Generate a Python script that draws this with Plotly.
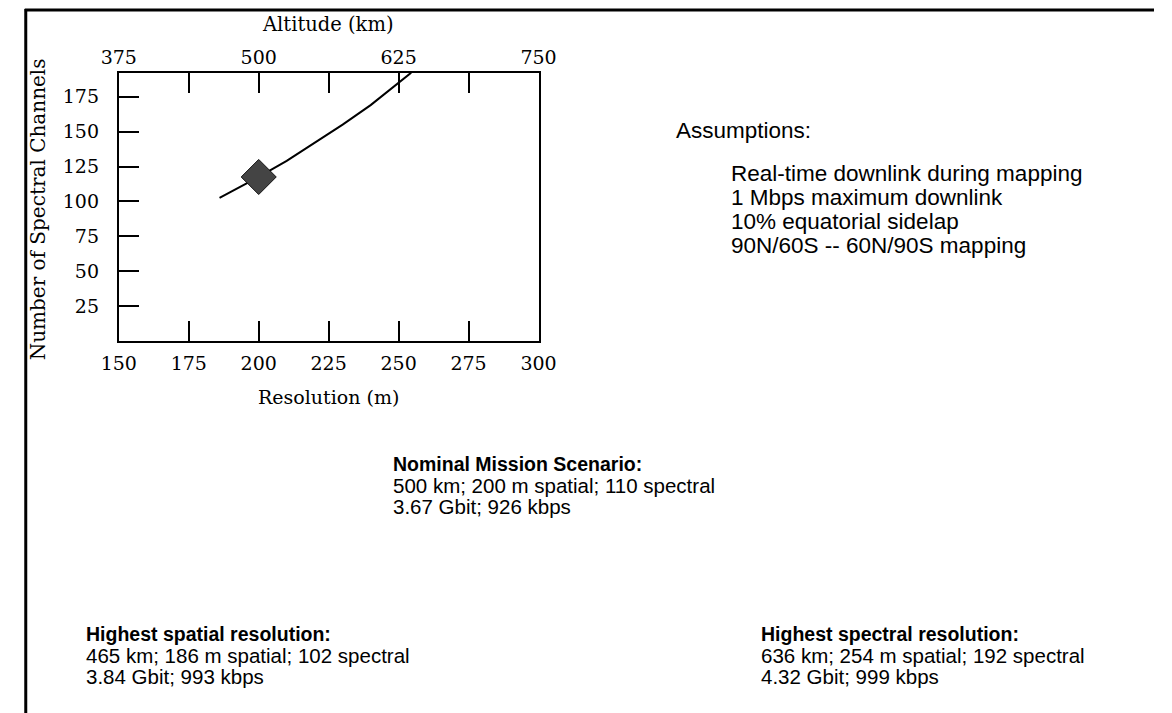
import plotly.graph_objects as go

# ---- data ----
resolution_m = [186, 193, 200, 210, 220, 230, 240, 250, 254.5]
spectral_channels = [102.5, 110, 117.5, 129, 142, 155, 169, 185, 192.2]
nominal_res = [200]
nominal_chan = [117.5]

x_ticks = [150, 175, 200, 225, 250, 275, 300]
y_ticks = [25, 50, 75, 100, 125, 150, 175]
alt_tick_pos = [150, 200, 250, 300]
alt_tick_text = ["375", "500", "625", "750"]

assumption_title = "Assumptions:"
assumption_lines = ["Real-time downlink during mapping", "1 Mbps maximum downlink",
                    "10% equatorial sidelap", "90N/60S -- 60N/90S mapping"]
nominal_block = ["<b>Nominal Mission Scenario:</b>", "500 km; 200 m spatial; 110 spectral",
                 "3.67 Gbit; 926 kbps"]
spatial_block = ["<b>Highest spatial resolution:</b>", "465 km; 186 m spatial; 102 spectral",
                 "3.84 Gbit; 993 kbps"]
spectral_block = ["<b>Highest spectral resolution:</b>", "636 km; 254 m spatial; 192 spectral",
                  "4.32 Gbit; 999 kbps"]

W, H = 1172, 713
def px(x):
    return x / W
def py(y):
    return 1 - y / H

SERIF = "DejaVu Serif"
SANS = "Liberation Sans, Arial, sans-serif"

fig = go.Figure()
fig.add_trace(go.Scatter(x=resolution_m, y=spectral_channels, mode="lines",
                         line=dict(color="black", width=2), showlegend=False, hoverinfo="skip"))
fig.add_trace(go.Scatter(x=nominal_res, y=nominal_chan, mode="markers",
                         marker=dict(symbol="diamond", size=27, color="#444444",
                                     line=dict(color="#111", width=1)),
                         showlegend=False, hoverinfo="skip"))
fig.add_trace(go.Scatter(x=[], y=[], xaxis="x2", showlegend=False))

L, R, T, B = 104, 537, 72.7, 341
tickfont = dict(family=SERIF, size=19, color="black")
fig.update_layout(
    width=W, height=H,
    margin=dict(l=0, r=0, t=0, b=0),
    paper_bgcolor="white", plot_bgcolor="white",
    xaxis=dict(domain=[px(L), px(R)], range=[150, 300], tickvals=x_ticks,
               ticks="inside", ticklen=20, tickwidth=1.5, tickcolor="black",
               showline=True, linewidth=2, linecolor="black", mirror="ticks",
               showgrid=False, zeroline=False, ticklabelstandoff=4, tickfont=tickfont),
    xaxis2=dict(overlaying="x", side="top", range=[150, 300], tickvals=alt_tick_pos,
                ticktext=alt_tick_text, ticks="", showline=False, showgrid=False,
                zeroline=False, ticklabelstandoff=4, tickfont=tickfont),
    yaxis=dict(domain=[py(B), py(T)], range=[0, 192.2], tickvals=y_ticks,
               ticks="inside", ticklen=20, tickwidth=1.5, tickcolor="black",
               showline=True, linewidth=2, linecolor="black", mirror=True,
               showgrid=False, zeroline=False, ticklabelstandoff=14, tickfont=tickfont),
)

ann = []
def text(x, y, s, size=20, family=SANS, xanchor="left", angle=0):
    ann.append(dict(x=px(x), y=py(y), xref="paper", yref="paper", text=s,
                    showarrow=False, xanchor=xanchor, yanchor="middle", textangle=angle,
                    font=dict(family=family, size=size, color="black")))

text(320, 24, "Altitude (km)", size=19.5, family=SERIF, xanchor="center")
text(320, 397, "Resolution (m)", size=19, family=SERIF, xanchor="center")
text(21, 209, "Number of Spectral Channels", size=20, family=SERIF, xanchor="center", angle=-90)

text(677, 131, assumption_title, size=22.5)
for i, s in enumerate(assumption_lines):
    text(734, 174 + 24 * i, s, size=22.5)
for block, x0, y0 in [(nominal_block, 385, 464), (spatial_block, 68, 634),
                      (spectral_block, 764, 634)]:
    for i, s in enumerate(block):
        text(x0, y0 + 21 * i, s, size=19.5 if i == 0 else 20.5)
fig.update_layout(annotations=ann)

# page frame lines
fig.add_shape(type="line", xref="paper", yref="paper", x0=px(7), x1=1, y0=py(10), y1=py(10),
              line=dict(color="black", width=3))
fig.add_shape(type="line", xref="paper", yref="paper", x0=px(8), x1=px(8), y0=py(9), y1=0,
              line=dict(color="black", width=3))

fig.write_html("out.html")
